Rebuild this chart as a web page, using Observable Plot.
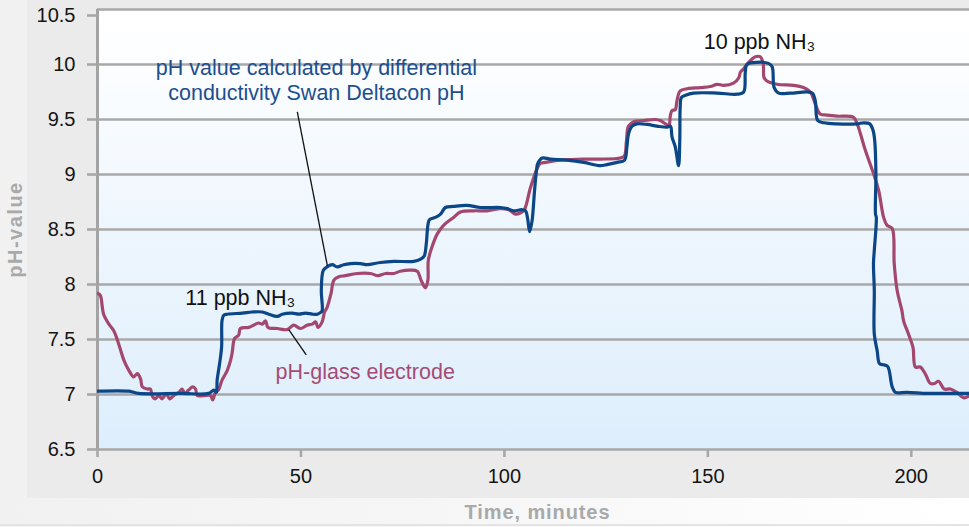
<!DOCTYPE html>
<html>
<head>
<meta charset="utf-8">
<script src="https://cdn.jsdelivr.net/npm/d3@7"></script>
<script src="https://cdn.jsdelivr.net/npm/@observablehq/plot@0.6"></script>
<style>
  html, body { margin: 0; padding: 0; background: #fff; }
  #wrap { position: relative; width: 969px; height: 527px; overflow: hidden;
          background: linear-gradient(90deg, #f1f1f1 0%, #f6f6f6 45%, #ffffff 100%); }
  #panel { position: absolute; left: 27px; top: 0; width: 942px; height: 498px; background: #ebebeb; }
  #baseline { position: absolute; left: 0; top: 524px; width: 969px; height: 2px; background: #e4e4e4; }
  #chart { position: absolute; left: 0; top: 0; }
  #chart svg { display: block; }
</style>
</head>
<body>
<div id="wrap">
  <div id="panel"></div>
  <div id="baseline"></div>
  <div id="chart"></div>
</div>
<script>
// ---- data (time in minutes, pH) ----
const deltaconPoints = [
  [0,7.03],[7.7,7.03],[10.1,7.01],[20.4,7.01],[27.3,7.01],[28.6,7.04],[29.2,7.02],[29.4,7.13],
  [30.0,7.28],[30.5,7.43],[30.6,7.67],[31.0,7.72],[31.9,7.73],[35.6,7.74],[38.0,7.75],[40.5,7.75],
  [42.1,7.73],[44.2,7.71],[45.4,7.73],[47.8,7.74],[49.5,7.73],[51.1,7.74],[52.8,7.73],[54.0,7.73],
  [54.8,7.745],[55.2,7.76],[55.0,7.945],[55.5,8.13],[56.4,8.16],[57.7,8.18],[58.9,8.16],[60.5,8.18],
  [62.2,8.19],[64.6,8.19],[66.3,8.18],[69.5,8.20],[72.8,8.21],[77.7,8.21],[79.4,8.23],[80.3,8.26],
  [80.8,8.37],[81.2,8.54],[81.6,8.59],[83.0,8.61],[84.3,8.64],[85.5,8.70],[87.5,8.71],[90.8,8.72],
  [94.1,8.70],[99.0,8.70],[100.7,8.69],[102.3,8.67],[104.3,8.68],[105.2,8.67],[105.7,8.60],[106.2,8.48],
  [106.8,8.58],[107.4,8.85],[107.9,9.04],[108.2,9.10],[109.3,9.15],[111.3,9.14],[115.4,9.13],[119.5,9.11],
  [123.6,9.08],[125.2,9.09],[127.7,9.11],[129.5,9.13],[130.1,9.25],[130.5,9.37],[131.4,9.44],[132.6,9.46],
  [135.1,9.455],[137.5,9.44],[140.0,9.43],[140.8,9.44],[141.2,9.34],[142.0,9.25],[142.8,9.08],[143.1,9.31],
  [143.2,9.61],[143.5,9.70],[144.5,9.72],[146.5,9.74],[152.3,9.74],[157.2,9.73],[158.8,9.75],[159.2,9.93],
  [159.6,10.0],[162.1,10.02],[164.9,10.01],[165.8,9.98],[166.3,9.79],[167.4,9.74],[170.3,9.74],[174.4,9.75],
  [175.7,9.74],[176.4,9.67],[177.0,9.49],[178.5,9.47],[181.7,9.46],[186.6,9.46],[188.3,9.47],[189.8,9.46],
  [190.6,9.40],[191.0,9.31],[191.3,9.01],[191.2,8.64],[191.4,8.61],[190.9,8.31],[190.7,8.19],[190.9,7.95],
  [190.9,7.55],[191.6,7.40],[192.2,7.28],[193.2,7.27],[194.2,7.255],[195.3,7.07],[196.1,7.02],[198.9,7.02],
  [203.9,7.01],[207.1,7.01],[214.3,7.01]
];
const glassPoints = [
  [0,7.92],[0.7,7.90],[1.2,7.79],[1.5,7.73],[2.8,7.64],[4.0,7.58],[5.2,7.46],[6.5,7.31],[7.7,7.22],
  [8.9,7.16],[9.8,7.19],[10.6,7.14],[11.0,7.07],[12.2,7.05],[13.0,7.05],[13.4,6.99],[14.1,6.96],[15.1,6.99],
  [15.9,6.96],[16.9,7.01],[17.7,6.96],[18.7,6.99],[20.0,7.02],[20.8,7.05],[21.4,7.01],[22.4,7.04],[23.4,7.07],
  [24.1,7.05],[24.5,6.99],[26.1,6.99],[27.8,6.99],[28.3,6.95],[29.0,7.02],[29.7,7.04],[30.6,7.13],[31.9,7.22],
  [32.7,7.31],[33.1,7.38],[33.7,7.51],[34.7,7.54],[35.1,7.60],[37.2,7.61],[39.6,7.65],[40.5,7.64],[41.3,7.67],
  [41.9,7.61],[44.2,7.60],[46.6,7.59],[48.2,7.63],[49.9,7.60],[51.5,7.63],[52.8,7.64],[53.6,7.66],[54.2,7.61],
  [55.2,7.66],[55.8,7.75],[56.4,7.79],[57.4,7.92],[58.1,8.04],[59.3,8.07],[60.9,8.08],[63.8,8.10],[67.1,8.10],
  [68.9,8.08],[70.8,8.10],[72.8,8.10],[74.4,8.12],[76.9,8.13],[78.6,8.12],[79.5,8.04],[80.6,7.97],[81.2,8.04],
  [81.3,8.22],[82.2,8.34],[83.5,8.46],[85.1,8.54],[87.5,8.61],[89.2,8.66],[92.5,8.67],[95.7,8.67],[99.0,8.69],
  [101.1,8.68],[102.7,8.64],[103.9,8.65],[104.9,8.68],[106.4,8.88],[108.0,9.05],[108.8,9.10],[110.1,9.11],
  [113.8,9.13],[119.5,9.14],[123.6,9.14],[128.5,9.15],[129.5,9.17],[130.0,9.31],[130.5,9.44],[131.8,9.48],
  [134.2,9.49],[137.1,9.50],[138.3,9.49],[139.6,9.46],[140.4,9.44],[140.8,9.54],[141.2,9.58],[142.0,9.59],
  [142.4,9.67],[143.2,9.76],[144.9,9.78],[148.2,9.79],[150.6,9.80],[152.3,9.82],[153.9,9.81],[156.3,9.83],
  [157.6,9.88],[158.0,9.93],[158.8,9.96],[160.0,10.02],[161.7,10.07],[162.9,10.07],[163.6,10.01],[163.8,9.88],
  [164.5,9.85],[167.0,9.82],[171.1,9.81],[173.5,9.79],[175.2,9.75],[176.4,9.64],[177.6,9.55],[179.3,9.54],
  [181.7,9.53],[185.8,9.52],[186.7,9.46],[187.5,9.37],[188.7,9.22],[190.7,9.01],[192.0,8.85],[193.2,8.61],
  [194.0,8.54],[195.3,8.51],[195.8,8.19],[196.5,7.95],[197.7,7.76],[198.1,7.67],[199.3,7.55],[200.4,7.43],
  [201.0,7.25],[202.2,7.25],[203.4,7.19],[204.7,7.10],[205.7,7.10],[206.7,7.12],[208.1,7.05],[209.6,7.05],
  [211.2,7.02],[212.9,6.97],[214.3,6.99]
];
const yTicks = [6.5, 7, 7.5, 8, 8.5, 9, 9.5, 10, 10.5];
const yTickLabels = ["6.5", "7", "7.5", "8", "8.5", "9", "9.5", "10", "10.5"];
const xTicks = [0, 50, 100, 150, 200];
const xTickLabels = ["0", "50", "100", "150", "200"];
const textLabels = [
  {t: 53.8, ph: 9.865, text: "pH value calculated by differential\nconductivity Swan Deltacon pH", color: "#1d4f8e"},
  {t: 35.1, ph: 7.89, text: "11 ppb NH\u2083", color: "#111111"},
  {t: 65.8, ph: 7.21, text: "pH-glass electrode", color: "#a54b76"},
  {t: 162.7, ph: 10.21, text: "10 ppb NH\u2083", color: "#111111"}
];
const leaders = [
  {t1: 49.1, p1: 9.57, t2: 56.5, p2: 8.17},
  {t1: 47.0, p1: 7.59, t2: 51.3, p2: 7.36}
];

const FONT = "'Liberation Sans', Arial, Helvetica, sans-serif";
const fmtY = (d) => yTickLabels[yTicks.indexOf(d)];

const defs = () => {
  const d = d3.create("svg:defs");
  const lg = d.append("linearGradient").attr("id", "plotbg")
    .attr("x1", 0).attr("y1", 0).attr("x2", 0).attr("y2", 1);
  lg.append("stop").attr("offset", "0%").attr("stop-color", "#ffffff");
  lg.append("stop").attr("offset", "15%").attr("stop-color", "#fbfdff");
  lg.append("stop").attr("offset", "50%").attr("stop-color", "#eef6fd");
  lg.append("stop").attr("offset", "100%").attr("stop-color", "#ddeefc");
  return d.node();
};

const chart = Plot.plot({
  width: 969,
  height: 527,
  marginLeft: 97,
  marginRight: 0,
  marginTop: 9,
  marginBottom: 78,
  x: {domain: [0, 214.3]},
  y: {domain: [6.5, 10.5]},
  style: {background: "transparent", fontFamily: FONT, overflow: "visible"},
  marks: [
    defs,
    Plot.frame({fill: "url(#plotbg)", stroke: null}),
    Plot.ruleY(yTicks, {stroke: "#a8a8a8", strokeWidth: 2.6}),
    Plot.ruleX([0], {stroke: "#a3a3a3", strokeWidth: 3}),
    Plot.axisY({
      ticks: yTicks.slice(0, -1), tickFormat: fmtY,
      tickSize: 10, tickPadding: 12, stroke: "#a8a8a8", strokeWidth: 2.6,
      fill: "#141414", fontSize: 20, label: null
    }),
    Plot.axisY({
      ticks: yTicks.slice(-1), tickFormat: fmtY,
      tickSize: 10, tickPadding: 12, stroke: "#a8a8a8", strokeWidth: 2.6,
      fill: "#141414", fontSize: 20, label: null, dy: 6
    }),
    Plot.axisX({
      ticks: xTicks, tickFormat: (d) => xTickLabels[xTicks.indexOf(d)],
      tickSize: 8, tickPadding: 11, stroke: "#a8a8a8", strokeWidth: 2.6,
      fill: "#141414", fontSize: 20, label: null
    }),
    Plot.text(["pH-value"], {
      frameAnchor: "left", textAnchor: "middle", rotate: -90, dx: -82, fontSize: 20, fontWeight: "bold",
      fill: "#a9a9a9", text: (d) => d
    }),
    Plot.text(["Time, minutes"], {
      frameAnchor: "bottom", dx: 4, dy: 69, fontSize: 20, fontWeight: "bold",
      fill: "#a9a9a9", text: (d) => d
    }),
    Plot.line(glassPoints, {
      x: (d) => d[0], y: (d) => d[1], stroke: "#a4476f", strokeWidth: 3.2,
      strokeLinejoin: "round", strokeLinecap: "round", curve: "catmull-rom", clip: true
    }),
    Plot.line(deltaconPoints, {
      x: (d) => d[0], y: (d) => d[1], stroke: "#0b4687", strokeWidth: 3.2,
      strokeLinejoin: "round", strokeLinecap: "round", curve: "catmull-rom", clip: true
    }),
    Plot.link(leaders, {
      x1: "t1", y1: "p1", x2: "t2", y2: "p2", stroke: "#111", strokeWidth: 1.3
    }),
    Plot.text(textLabels, {
      x: "t", y: "ph", text: "text", fill: "color", fontSize: 21.5, lineHeight: 1.16,
      textAnchor: "middle"
    })
  ]
});

d3.select(chart).selectAll("text").filter(function () {
  return this.textContent === "Time, minutes";
}).attr("letter-spacing", "0.9px");
d3.select(chart).selectAll("text").filter(function () {
  return this.textContent === "pH-value";
}).attr("letter-spacing", "1.5px");

document.getElementById("chart").appendChild(chart);
</script>
</body>
</html>
